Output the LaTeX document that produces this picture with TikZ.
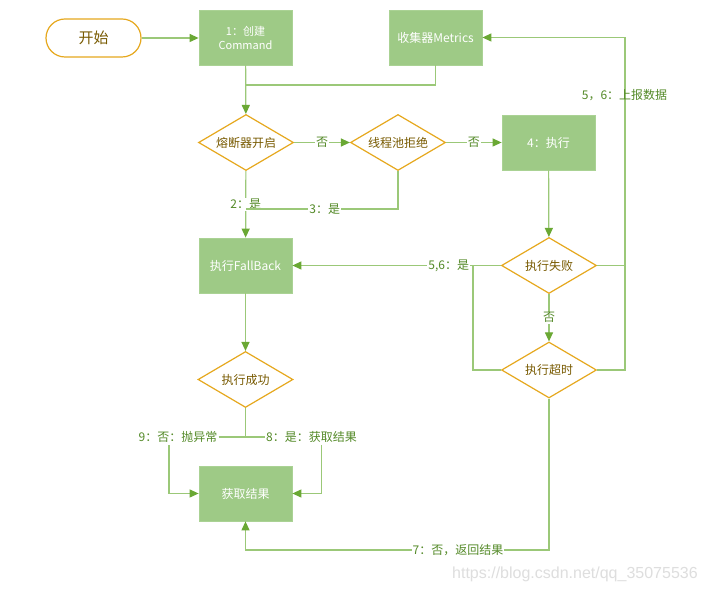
\documentclass[tikz,border=0pt]{standalone}
\usepackage{fontspec}
\setmainfont{Noto Sans CJK SC}
\newfontfamily\wmfont{Liberation Sans}
\usetikzlibrary{arrows.meta,shapes.geometric}
\definecolor{boxfill}{RGB}{158,202,134}
\definecolor{boxedge}{RGB}{170,210,148}
\definecolor{diaedge}{RGB}{230,168,30}
\definecolor{diatext}{RGB}{120,90,0}
\definecolor{linegreen}{RGB}{155,200,120}
\definecolor{arrowgreen}{RGB}{106,168,52}
\definecolor{lbltext}{RGB}{84,138,40}
\definecolor{wmgray}{RGB}{222,222,222}
\tikzset{
  box/.style={draw=boxedge, line width=0.8pt, fill=boxfill, text=white,
    font=\fontsize{12}{14}\selectfont, minimum width=93pt, minimum height=55pt,
    inner sep=0pt, align=center},
  dia/.style={diamond, draw=diaedge, line width=1.2pt, fill=white, text=diatext,
    font=\fontsize{12}{14}\selectfont, minimum width=95pt, minimum height=56pt,
    inner sep=0pt, aspect=1.7},
  startbox/.style={draw=diaedge, line width=1.2pt, rounded corners=19pt,
    minimum width=95pt, minimum height=38pt, text=diatext,
    font=\fontsize{15}{18}\selectfont},
  conn/.style={draw=linegreen, line width=1.2pt},
  arr/.style={conn, -{Triangle[length=9pt,width=8pt,color=arrowgreen]}},
  lbl/.style={fill=white, text=lbltext, font=\fontsize{12}{14}\selectfont, inner sep=1pt},
  lbltxt/.style={text=lbltext, font=\fontsize{12}{14}\selectfont, inner sep=1pt}
}
\begin{document}
\begin{tikzpicture}[x=1pt,y=-1pt]
\useasboundingbox[fill=white] (0,0) rectangle (705,593);
% nodes
\node[startbox] (start) at (93.5,38) {开始};
\node[box, font=\fontsize{11}{14}\selectfont] (create) at (245.5,37.5) {1：创建\\Command};
\node[box] (metrics) at (435.5,37.5) {收集器Metrics};
\node[dia] (cb) at (246,142.5) {熔断器开启};
\node[dia] (pool) at (398,142.5) {线程池拒绝};
\node[box] (exec) at (548.5,142.5) {4：执行};
\node[box] (fb) at (245.5,265.5) {执行FallBack};
\node[dia] (fail) at (549,265.5) {执行失败};
\node[dia] (tmo) at (549,370) {执行超时};
\node[dia] (succ) at (245.5,379.5) {执行成功};
\node[box] (res) at (245.5,493.5) {获取结果};
% coordinates
\coordinate (j1) at (245.5,85);
\coordinate (j2) at (245.5,209);
\coordinate (j3) at (473,265.5);
\coordinate (j4) at (625,265.5);
\coordinate (rt) at (625,37.5);
\coordinate (bt) at (549,550);
\coordinate (j5) at (245.5,437);
\coordinate (c9) at (169,445);
\coordinate (c8) at (321.5,445);
% connectors
\draw[arr] (start.east) -- (start.east -| create.west);
\draw[arr] (create) -- (cb);
\draw[conn] (metrics.south) |- (j1);
\draw[arr] (cb) -- node[lbl]{否} (pool);
\draw[arr] (pool) -- node[lbl]{否} (exec);
\draw[arr] (cb) -- node[lbl]{2：是} (fb);
\draw[conn] (pool.south) |- node[lbl,pos=0.74]{3：是} (j2);
\draw[arr] (exec) -- (fail);
\draw[arr] (fail.west) -- node[lbl,pos=0.25]{5,6：是} (fb.east);
\draw[conn] (tmo.west) -| (j3);
\draw[arr] (fail) -- node[lbl]{否} (tmo);
\draw[conn] (fail.east) -- (j4);
\draw[arr] (tmo.east) -| (rt) -- (metrics.east);
\node[lbltxt] (l56) at (624.5,95.5) {5，6：上报数据};
\draw[arr] (tmo.south) -- (bt) -| node[lbl,pos=0.15]{7：否，返回结果} (res.south);
\draw[arr] (fb) -- (succ);
\draw[conn] (succ.south) -- (j5);
\node[lbl] (l9) at (178,437) {9：否：抛异常};
\node[lbl] (l8) at (311.5,437) {8：是：获取结果};
\draw[conn] (l9.east) -- (l8.west);
\draw[arr] (c9) |- (res.west);
\draw[arr] (c8) |- (res.east);
% watermark
\node[text=wmgray, font=\wmfont\fontsize{16}{18}\selectfont, anchor=west, inner sep=0pt] (wm) at (452,574) {https://blog.csdn.net/qq\_35075536};
\end{tikzpicture}
\end{document}
